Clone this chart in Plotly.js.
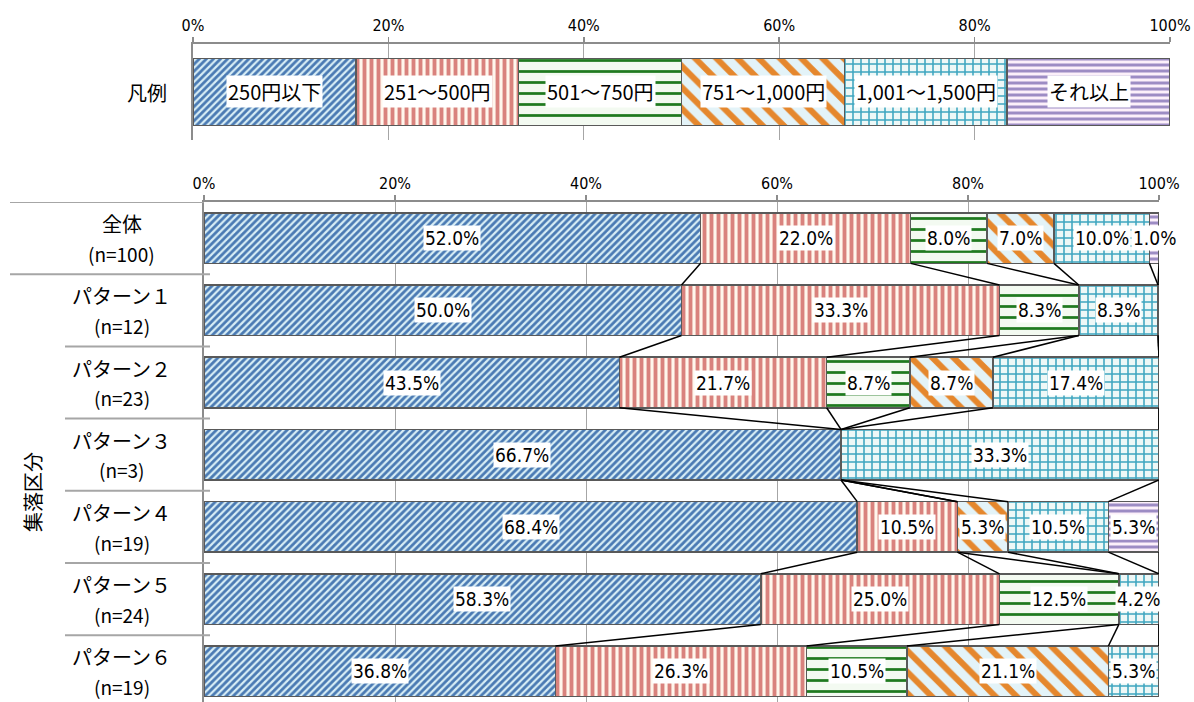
<!DOCTYPE html>
<html>
<head>
<meta charset="utf-8">
<script src="https://cdn.plot.ly/plotly-3.0.1.min.js"></script>
<style>
  html, body { margin: 0; padding: 0; background: #fff; }
  #chart { width: 1194px; height: 702px; }
</style>
</head>
<body>
<div id="chart"></div>
<script>
// Price bands (legend order, left to right)
const bands = ['250円以下', '251～500円', '501～750円', '751～1,000円', '1,001～1,500円', 'それ以上'];
// Equal-width legend strip segments (%)
const legendSpan = [16.67, 16.67, 16.67, 16.67, 16.66, 16.66];

// Rows of the main chart
const groups = ['全体', 'パターン１', 'パターン２', 'パターン３', 'パターン４', 'パターン５', 'パターン６'];
const sampleSizes = ['(n=100)', '(n=12)', '(n=23)', '(n=3)', '(n=19)', '(n=24)', '(n=19)'];
const groupTitle = '集落区分';
const legendTitle = '凡例';

// Share (%) of each price band per row
const s250 = [52.0, 50.0, 43.5, 66.7, 68.4, 58.3, 36.8];
const s500 = [22.0, 33.3, 21.7, 0, 10.5, 25.0, 26.3];
const s750 = [8.0, 8.3, 8.7, 0, 0, 12.5, 10.5];
const s1000 = [7.0, 0, 8.7, 0, 5.3, 0, 21.1];
const s1500 = [10.0, 8.3, 17.4, 33.3, 10.5, 4.2, 5.3];
const sOver = [1.0, 0, 0, 0, 5.3, 0, 0];
const seriesValues = [s250, s500, s750, s1000, s1500, sOver];

const xTicks = [0, 20, 40, 60, 80, 100];
const xTickLabels = ['0%', '20%', '40%', '60%', '80%', '100%'];

// Fill patterns per band
const patterns = [
  { shape: '/',  fgcolor: '#4a7ab3', bgcolor: '#d8eef6', size: 5,  solidity: 0.55 },
  { shape: '|',  fgcolor: '#d9827d', bgcolor: '#fff6ec', size: 7,  solidity: 0.55 },
  { shape: '-',  fgcolor: '#1f7a1f', bgcolor: '#f3faf1', size: 11, solidity: 0.25 },
  { shape: '\\', fgcolor: '#e5872d', bgcolor: '#e3f3f8', size: 15, solidity: 0.4 },
  { shape: '+',  fgcolor: '#3ea6c0', bgcolor: '#eef8f7', size: 8,  solidity: 0.35 },
  { shape: '-',  fgcolor: '#9d8cc4', bgcolor: '#fcf0fa', size: 6,  solidity: 0.5 }
];

const W = 1194, H = 702;
const px = v => v / W;
const py = v => 1 - v / H;
const BAR_W = 0.7;
const FONT = '"Noto Sans CJK JP", "Noto Sans", sans-serif';
const NUM_FONT = '"Liberation Sans Narrow", "DejaVu Sans Condensed", "Noto Sans CJK JP", sans-serif';
const AXIS_GRAY = '#8c8c8c';
const GRID_GRAY = '#a6a6a6';
const rows = groups.map((_, i) => i);

const traces = [];
const annotations = [];

seriesValues.forEach((vals, k) => {
  const pat = Object.assign({ fillmode: 'replace' }, patterns[k]);
  // main stacked bars
  traces.push({
    type: 'bar', orientation: 'h', name: bands[k],
    x: vals.map(v => (v === 0 ? null : v)), y: rows,
    xaxis: 'x2', yaxis: 'y2', width: BAR_W,
    marker: { color: pat.bgcolor, pattern: pat, line: { color: '#595959', width: 1.5 } },
    hoverinfo: 'skip', showlegend: false
  });
  // legend strip
  traces.push({
    type: 'bar', orientation: 'h', name: bands[k],
    x: [legendSpan[k]], y: [0],
    xaxis: 'x', yaxis: 'y', width: BAR_W,
    marker: { color: pat.bgcolor, pattern: pat, line: { color: '#595959', width: 1.5 } },
    hoverinfo: 'skip', showlegend: false
  });
});

// cumulative ends of each band per row, plus value labels
const cumEnds = seriesValues.map(() => []);
rows.forEach(i => {
  let acc = 0;
  seriesValues.forEach((vals, k) => {
    const start = acc;
    acc += vals[i];
    cumEnds[k][i] = acc;
    if (vals[i] > 0) {
      annotations.push({
        xref: 'x2', yref: 'y2', x: start + vals[i] / 2, y: i,
        xanchor: 'center', yanchor: 'middle',
        text: vals[i].toFixed(1) + '%', showarrow: false,
        bgcolor: '#ffffff', borderpad: 1,
        font: { family: NUM_FONT, size: 19, color: '#000' }
      });
    }
  });
});

// series lines joining band ends between neighbouring rows
const slx = [], sly = [];
seriesValues.forEach((_, k) => {
  for (let i = 0; i < rows.length - 1; i++) {
    slx.push(cumEnds[k][i], cumEnds[k][i + 1], null);
    sly.push(i + BAR_W / 2, i + 1 - BAR_W / 2, null);
  }
});
traces.push({
  type: 'scatter', mode: 'lines', x: slx, y: sly,
  xaxis: 'x2', yaxis: 'y2', line: { color: '#000', width: 1.5 },
  hoverinfo: 'skip', showlegend: false, cliponaxis: false
});

// legend strip labels
let lacc = 0;
legendSpan.forEach((w, k) => {
  annotations.push({
    xref: 'x', yref: 'y', x: lacc + w / 2, y: 0,
    xanchor: 'center', yanchor: 'middle',
    text: bands[k], showarrow: false, bgcolor: '#ffffff', borderpad: 1,
    font: { family: FONT, size: 20, color: '#000' }
  });
  lacc += w;
});

// row labels: name on top, sample size below
groups.forEach((g, i) => {
  annotations.push({
    xref: 'paper', yref: 'y2', x: px(122), y: i - 0.2,
    xanchor: 'center', yanchor: 'middle',
    text: g, showarrow: false,
    font: { family: FONT, size: 20, color: '#000' }
  });
  annotations.push({
    xref: 'paper', yref: 'y2', x: px(122), y: i + 0.21,
    xanchor: 'center', yanchor: 'middle',
    text: sampleSizes[i], showarrow: false,
    font: { family: FONT, size: 19, color: '#000' }
  });
});
annotations.push({
  xref: 'paper', yref: 'paper', x: px(33), y: py(492),
  xanchor: 'center', yanchor: 'middle',
  text: groupTitle, textangle: -90, showarrow: false,
  font: { family: FONT, size: 20, color: '#000' }
});
annotations.push({
  xref: 'paper', yref: 'paper', x: px(147), y: py(93),
  xanchor: 'center', yanchor: 'middle',
  text: legendTitle, showarrow: false,
  font: { family: FONT, size: 20, color: '#000' }
});

// row separators on the label column
const shapes = [];
const sepLeft = [10, 10, 65, 65, 65, 65, 65];
const sepRight = [204, 210, 210, 210, 210, 210, 210];
for (let i = 0; i < rows.length; i++) {
  shapes.push({
    type: 'line', xref: 'paper', yref: 'y2',
    x0: px(sepLeft[i]), x1: px(sepRight[i]), y0: i - 0.5, y1: i - 0.5,
    line: { color: GRID_GRAY, width: 2 }
  });
}

const xAxisCommon = {
  range: [0, 100], side: 'top', tickmode: 'array', tickvals: xTicks, ticktext: xTickLabels,
  showline: true, linecolor: AXIS_GRAY, linewidth: 2,
  ticks: 'outside', ticklen: 5, tickcolor: AXIS_GRAY, tickwidth: 1.5,
  showgrid: true, gridcolor: GRID_GRAY, gridwidth: 1, zeroline: false,
  tickfont: { family: NUM_FONT, size: 16, color: '#000' }, fixedrange: true
};

const layout = {
  width: W, height: H,
  margin: { l: 0, r: 0, t: 0, b: 0 },
  paper_bgcolor: '#ffffff', plot_bgcolor: 'rgba(0,0,0,0)',
  barmode: 'stack', showlegend: false,
  xaxis: Object.assign({}, xAxisCommon, { domain: [px(193), px(1170)], anchor: 'y' }),
  yaxis: {
    domain: [py(140), py(44)], range: [0.5, -0.5], anchor: 'x',
    showline: true, linecolor: AXIS_GRAY, linewidth: 2,
    showticklabels: false, showgrid: false, zeroline: false, fixedrange: true
  },
  xaxis2: Object.assign({}, xAxisCommon, { domain: [px(204), px(1159)], anchor: 'y2' }),
  yaxis2: {
    domain: [0, py(202)], range: [6.425, -0.5], anchor: 'x2',
    showline: true, linecolor: AXIS_GRAY, linewidth: 2,
    showticklabels: false, showgrid: false, zeroline: false, fixedrange: true
  },
  annotations: annotations,
  shapes: shapes
};

Plotly.newPlot('chart', traces, layout, { displayModeBar: false, staticPlot: true });
</script>
</body>
</html>
